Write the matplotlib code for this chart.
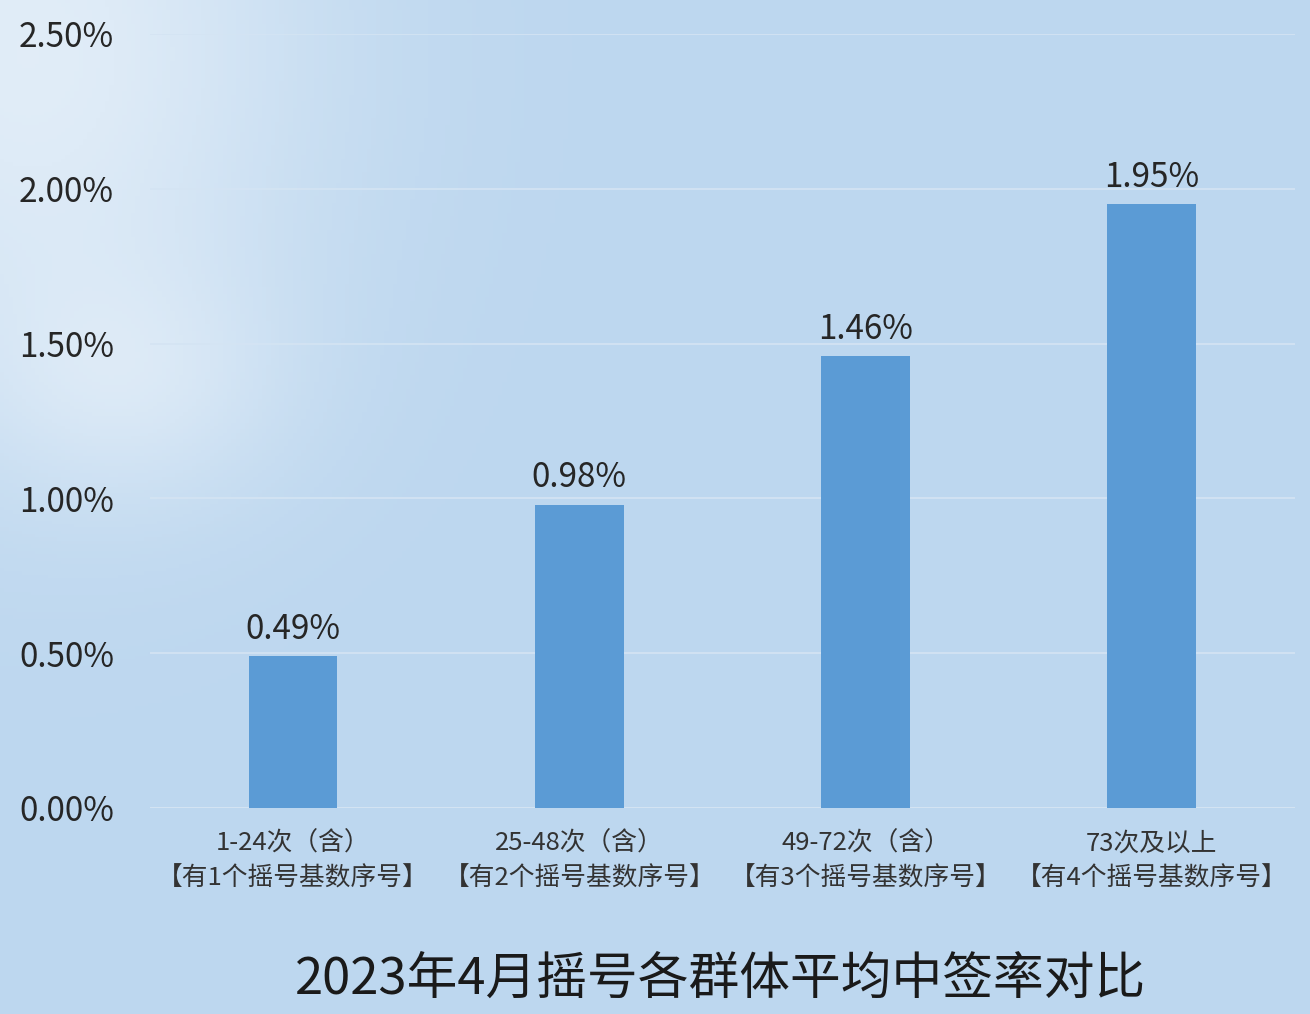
import numpy as np
import matplotlib
matplotlib.use('Agg')
import matplotlib.pyplot as plt

plt.rcParams['font.family'] = ['Noto Sans CJK SC', 'DejaVu Sans']

# 数据
categories = ['1-24次（含）\n【有1个摇号基数序号】',
              '25-48次（含）\n【有2个摇号基数序号】',
              '49-72次（含）\n【有3个摇号基数序号】',
              '73次及以上\n【有4个摇号基数序号】']
rates = [0.49, 0.98, 1.46, 1.95]
yticks = [0.0, 0.5, 1.0, 1.5, 2.0, 2.5]
title = '2023年4月摇号各群体平均中签率对比'

bg = '#bdd7ef'
fig = plt.figure(figsize=(13.1, 10.14), dpi=100, facecolor=bg)

# 左上角淡淡的云
bgax = fig.add_axes([0, 0, 1, 1], zorder=-1)
yy, xx = np.mgrid[0:1:300j, 0:1:300j]
blob = np.exp(-(((xx - 0.02) / 0.22) ** 2 + ((yy - 0.95) / 0.35) ** 2))
blob += 0.5 * np.exp(-(((xx - 0.1) / 0.12) ** 2 + ((yy - 0.62) / 0.12) ** 2))
img = np.ones((300, 300, 4))
img[..., 3] = np.clip(blob, 0, 1) * 0.55
bgax.imshow(np.full((2, 2, 3), [0xbd / 255, 0xd7 / 255, 0xef / 255]), extent=[0, 1, 0, 1], aspect='auto')
bgax.imshow(img, extent=[0, 1, 0, 1], origin='lower', aspect='auto')
bgax.set_xlim(0, 1); bgax.set_ylim(0, 1)
bgax.axis('off')

ax = fig.add_axes([0.1145, 0.2032, 0.874, 0.7633])
ax.patch.set_alpha(0)
x = np.arange(len(categories))
bars = ax.bar(x, rates, width=0.31, color='#5b9bd5', zorder=3)
for b, v in zip(bars, rates):
    ax.text(b.get_x() + b.get_width() / 2, v + 0.03, f'{v:.2f}%',
            ha='center', va='bottom', fontsize=24, color='#262626')

ax.set_xlim(-0.5, 3.5)
ax.set_ylim(0, 2.5)
ax.set_yticks(yticks)
ax.set_yticklabels([f'{t:.2f}%' for t in yticks], fontsize=24, color='#262626')
ax.set_xticks(x)
ax.set_xticklabels(categories, fontsize=18.5, color='#333333', linespacing=1.45)
ax.tick_params(axis='y', length=0, pad=26)
ax.tick_params(axis='x', length=0, pad=16)
ax.grid(axis='y', color='#d4e4f3', linewidth=1.2, zorder=0)
for s in ax.spines.values():
    s.set_visible(False)
ax.axhline(0, color='#d4e4f3', linewidth=1.2, zorder=1)

fig.text(0.55, 0.033, title, ha='center', va='center', fontsize=36.5, color='#1a1a1a')

fig.savefig('out.png', dpi=100, facecolor=bg)
